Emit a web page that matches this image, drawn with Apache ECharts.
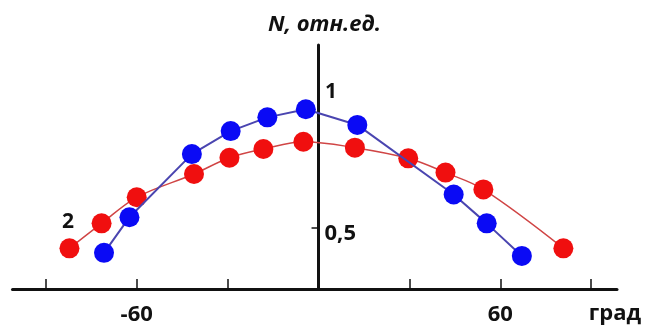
<!DOCTYPE html>
<html>
<head>
<meta charset="utf-8">
<script src="https://cdn.jsdelivr.net/npm/echarts@6/dist/echarts.min.js"></script>
<style>html,body{margin:0;padding:0;background:#fff}#c{width:646px;height:328px}</style>
</head>
<body>
<div id="c"></div>
<script>
// Curve 1 (blue)
const blueX = [-70.8, -62.4, -41.8, -29.0, -16.9, -4.2, 12.8, 44.6, 55.5, 67.1];
const blueY = [0.409, 0.536, 0.761, 0.843, 0.892, 0.921, 0.865, 0.617, 0.514, 0.398];
// Curve 2 (red)
const redX = [-82.2, -71.6, -60.0, -41.1, -29.4, -18.2, -5.0, 12.0, 29.6, 41.9, 54.4, 80.8];
const redY = [0.425, 0.514, 0.607, 0.690, 0.748, 0.779, 0.805, 0.784, 0.746, 0.695, 0.635, 0.425];
const xTicks = [-90, -60, -30, 30, 60, 90];
const xLabels = [-60, 60];
const yTicks = [0.5];
const yLabels = ['0,5'];
const yName = 'N, отн.ед.';
const xName = 'град';
const curveNames = ['1', '2'];

const FONT = '"Open Sans", "Liberation Sans", sans-serif';
const chart = echarts.init(document.getElementById('c'), null, {renderer: 'canvas'});
const zip = (a, b) => a.map((v, i) => [v, b[i]]);

chart.setOption({
  animation: false,
  backgroundColor: '#fff',
  grid: {left: 12.5, right: 29, top: 45, bottom: 39, outerBoundsMode: 'none'},
  xAxis: {
    type: 'value', min: -101, max: 98.5,
    splitLine: {show: false},
    axisLine: {lineStyle: {color: '#111', width: 3}},
    axisTick: {inside: true, length: 10, lineStyle: {color: '#111', width: 1.5}, customValues: xTicks},
    axisLabel: {customValues: xLabels, margin: 15, color: '#111', fontFamily: FONT, fontWeight: 'bold', fontSize: 22,
      formatter: v => String(v)}
  },
  yAxis: {
    type: 'value', min: 0.28, max: 1.15,
    splitLine: {show: false},
    axisLine: {onZero: true, lineStyle: {color: '#111', width: 3}},
    axisTick: {inside: false, length: 7, lineStyle: {color: '#111', width: 1.5}, customValues: yTicks},
    axisLabel: {show: false}
  },
  series: [
    {
      name: '2', type: 'line', smooth: 0.35, z: 2,
      data: zip(redX, redY),
      symbol: 'circle', symbolSize: 20,
      itemStyle: {color: '#f00f0f'},
      lineStyle: {color: '#d04545', width: 1.5}
    },
    {
      name: '1', type: 'line', smooth: false, z: 3,
      data: zip(blueX, blueY),
      symbol: 'circle', symbolSize: 20,
      itemStyle: {color: '#0a0af5'},
      lineStyle: {color: '#4a45b0', width: 2}
    }
  ]
});

const txt = (x, y, text, extra) => ({
  type: 'text', x, y, z: 10,
  style: Object.assign({text, fill: '#111', font: 'bold 22px ' + FONT, align: 'center', verticalAlign: 'middle'}, extra || {})
});
const p05 = chart.convertToPixel({gridIndex: 0}, [0, yTicks[0]]);
const axTop = chart.convertToPixel({gridIndex: 0}, [0, 1.15]);
chart.setOption({
  graphic: [
    txt(axTop[0] + 6, 25, yName, {font: 'italic bold 22px ' + FONT}),
    txt(615, 314, xName),
    txt(p05[0] + 6, p05[1] + 6, yLabels[0], {align: 'left'}),
    txt(331, 92, curveNames[0], {font: 'bold 21px ' + FONT}),
    txt(68, 222, curveNames[1], {font: 'bold 21px ' + FONT})
  ]
});
</script>
</body>
</html>
